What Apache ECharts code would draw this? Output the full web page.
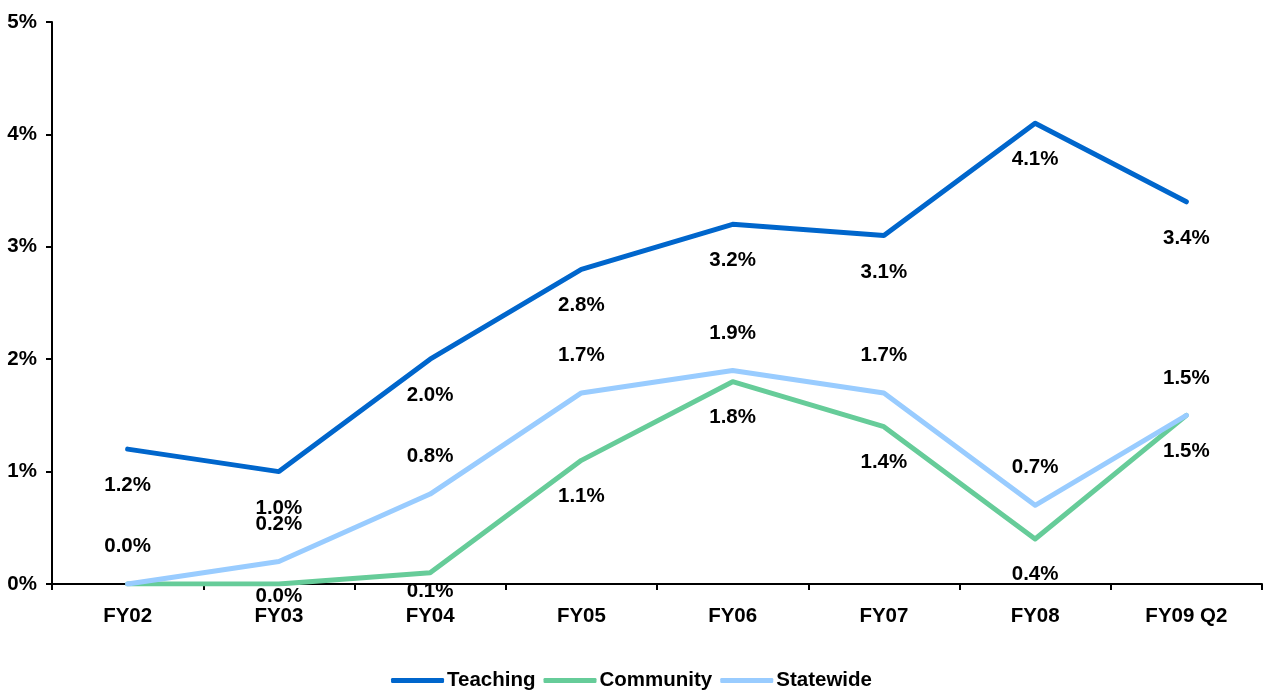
<!DOCTYPE html>
<html>
<head>
<meta charset="utf-8">
<style>
  html, body { margin: 0; padding: 0; background: #fff; }
  #chart { width: 1263px; height: 692px; }
</style>
<script src="https://cdn.jsdelivr.net/npm/echarts@6/dist/echarts.min.js"></script>
</head>
<body>
<div id="chart"></div>
<script>
// Fiscal periods on the category axis
const categories = ['FY02', 'FY03', 'FY04', 'FY05', 'FY06', 'FY07', 'FY08', 'FY09 Q2'];

// Growth rates in percent
const teaching  = [1.2, 1.0, 2.0, 2.8, 3.2, 3.1, 4.1, 3.4];
const community = [0.0, 0.0, 0.1, 1.1, 1.8, 1.4, 0.4, 1.5];
const statewide = [0.0, 0.2, 0.8, 1.7, 1.9, 1.7, 0.7, 1.5];

const seriesNames = ['Teaching', 'Community', 'Statewide'];
const seriesColors = ['#0066CC', '#66CC99', '#99CCFF'];

const yTicks = [0, 1, 2, 3, 4, 5];

const FONT = '"Liberation Sans", Arial, sans-serif';
const FS = 20.5;

const labelBase = {
  show: true,
  fontFamily: FONT,
  fontWeight: 'bold',
  fontSize: FS,
  color: '#000',
  opacity: 1,
  formatter: p => p.value.toFixed(1) + '%'
};

// Community labels sit below the line, pulled up where they would leave the plot
function communityData() {
  return community.map((v, i) => {
    if (i === 0) return { value: v, label: { show: false } };
    if (i === 1) return { value: v, label: { distance: 1 } };
    if (i === 2) return { value: v, label: { distance: 7 } };
    return v;
  });
}

function lineSeries(idx, data, label) {
  const color = seriesColors[idx];
  return {
    name: seriesNames[idx],
    type: 'line',
    data: data,
    // transparent point markers that only carry the value labels
    symbol: 'circle',
    symbolSize: 2,
    showSymbol: true,
    itemStyle: { color: 'rgba(0,0,0,0)', borderWidth: 0 },
    lineStyle: { color: color, width: 5, cap: 'round', join: 'round' },
    label: label,
    emphasis: { disabled: true }
  };
}

const chart = echarts.init(document.getElementById('chart'), null, { renderer: 'canvas' });

chart.setOption({
  animation: false,
  backgroundColor: '#fff',
  grid: { left: 52, right: 1, top: 22, bottom: 108, containLabel: false },
  legend: {
    top: 665,
    left: 'center',
    icon: 'roundRect',
    itemWidth: 53,
    itemHeight: 5,
    itemGap: 8,
    textStyle: { fontFamily: FONT, fontWeight: 'bold', fontSize: FS, color: '#000', padding: [0, 0, 0, -2] },
    data: seriesNames.map((n, i) => ({ name: n, itemStyle: { color: seriesColors[i], opacity: 1 } }))
  },
  xAxis: {
    type: 'category',
    data: categories,
    boundaryGap: true,
    axisLine: { lineStyle: { color: '#000', width: 2 } },
    axisTick: { show: true, length: 6, inside: false, alignWithLabel: false, lineStyle: { color: '#000', width: 2 } },
    axisLabel: { fontFamily: FONT, fontWeight: 'bold', fontSize: FS, color: '#000', margin: 22 },
    splitLine: { show: false }
  },
  yAxis: {
    type: 'value',
    min: yTicks[0],
    max: yTicks[yTicks.length - 1],
    interval: 1,
    axisLine: { show: true, lineStyle: { color: '#000', width: 2 } },
    axisTick: { show: true, length: 6, lineStyle: { color: '#000', width: 2 } },
    axisLabel: { fontFamily: FONT, fontWeight: 'bold', fontSize: FS, color: '#000', margin: 15, formatter: v => v + '%' },
    splitLine: { show: false }
  },
  series: [
    lineSeries(0, teaching, Object.assign({}, labelBase, { position: 'bottom', distance: 25 })),
    lineSeries(1, communityData(), Object.assign({}, labelBase, { position: 'bottom', distance: 24 })),
    lineSeries(2, statewide, Object.assign({}, labelBase, { position: 'top', distance: 26 }))
  ]
});
</script>
</body>
</html>
